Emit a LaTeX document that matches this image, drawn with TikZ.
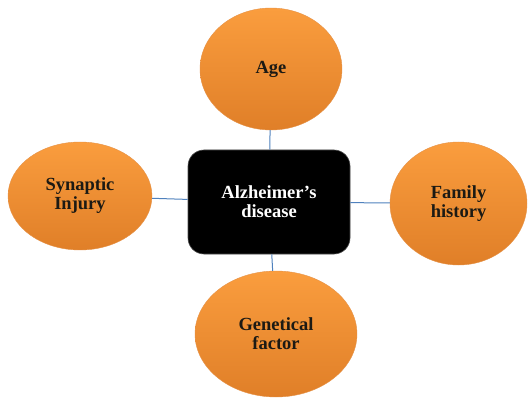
\documentclass[tikz,border=0pt]{standalone}
\usepackage{fontspec}
\setmainfont{Liberation Serif}
\usetikzlibrary{shapes.geometric}
\definecolor{linkblue}{HTML}{4F81BD}
\definecolor{orangetop}{HTML}{FA9D3E}
\definecolor{orangebot}{HTML}{E07F28}
\definecolor{labeldark}{HTML}{1C1A14}
\begin{document}
\begin{tikzpicture}[x=1pt,y=-1pt,
  factor/.style={ellipse, inner sep=0pt, top color=orangetop, bottom color=orangebot,
    draw=orangebot!85!white, line width=0.4pt, align=center, text=labeldark,
    font=\fontsize{18.5}{19}\selectfont\bfseries},
  core/.style={rectangle, rounded corners=16pt, fill=black, draw=black!70, line width=0.6pt,
    minimum width=162pt, minimum height=104pt, align=center, text=white,
    font=\fontsize{18.5}{19}\selectfont\bfseries},
  link/.style={draw=linkblue, line width=1pt}]
  \useasboundingbox (0,0) rectangle (528,401);
  % central condition and its risk factors
  \node[core] (ad) at (269,202) {Alzheimer’s\\disease};
  \node[factor, minimum width=142pt, minimum height=122pt] (age) at (271,69) {Age};
  \node[factor, minimum width=144pt, minimum height=108pt] (syn) at (80,196) {Synaptic\\Injury};
  \node[factor, minimum width=137pt, minimum height=123pt] (fam) at (458.5,203.5) {Family\\history};
  \node[factor, minimum width=162pt, minimum height=126pt] (gen) at (276,334) {Genetical\\factor};
  % connectors from the condition to each factor
  \draw[link] (ad) -- (age);
  \draw[link] (ad) -- (syn);
  \draw[link] (ad) -- (fam);
  \draw[link] (ad) -- (gen);
\end{tikzpicture}
\end{document}
